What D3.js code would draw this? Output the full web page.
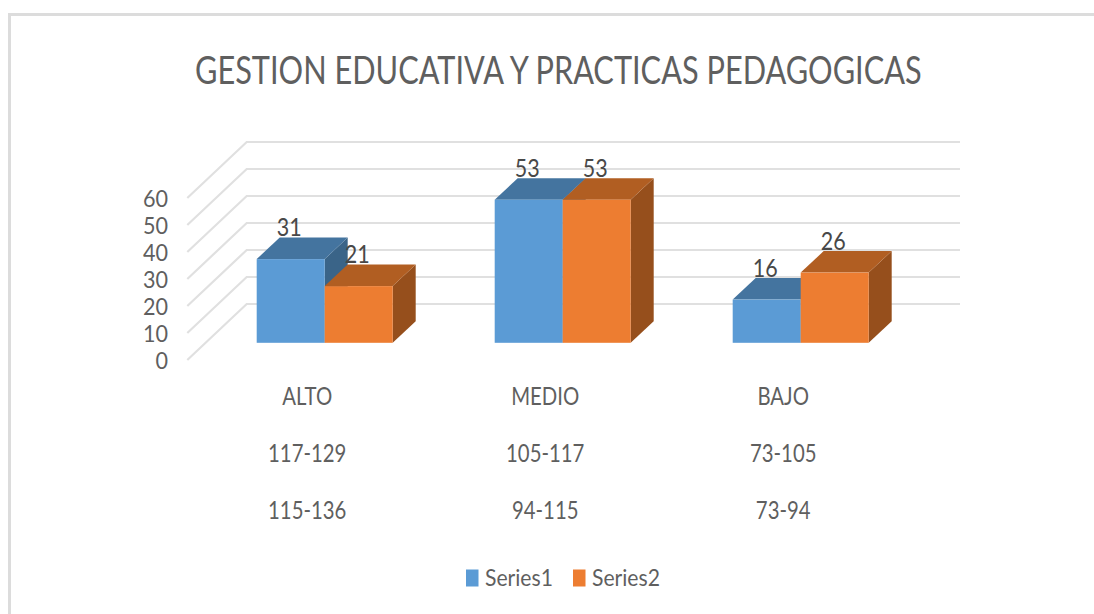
<!DOCTYPE html>
<html><head><meta charset="utf-8">
<script src="https://cdn.jsdelivr.net/npm/d3@7"></script>
<style>html,body{margin:0;padding:0;background:#fff}svg{display:block}text{font-family:Lato,"Open Sans",sans-serif}</style>
</head><body><svg id="c" width="1094" height="614"></svg>
<script>
const chartTitle = "GESTION EDUCATIVA Y PRACTICAS PEDAGOGICAS";
const categories = ["ALTO","MEDIO","BAJO"];
const rangeRow1 = ["117-129","105-117","73-105"];
const rangeRow2 = ["115-136","94-115","73-94"];
const seriesNames = ["Series1","Series2"];
const series1 = [31,53,16];
const series2 = [21,53,26];
const yTicks = [0,10,20,30,40,50,60];

const svg = d3.select("#c");
const fill = ["#5b9bd5","#ed7d31"], top_ = ["#44749f","#b15e22"], side = ["#3a6488","#964f1c"];
const grey = "#5f5f5f", dark = "#484848", gridC = "#e0e0e0";

const h = d3.scaleLinear().domain([0,60]).range([0,162]);
const frontBase = 342.8, wallBase = 304, axisBase = 360;
const wallLeft = 246.7, wallRight = 960, axisLeft = 187.3;
const x0 = d3.scaleBand().domain(categories).range([205.7,919.7]).paddingInner(0);
const barW = 68, dx = 23, dy = 21.5;
const xBar = (i,s) => x0(categories[i]) + x0.bandwidth()/2 + (s-1)*barW;

function label(g,x,y,t,size,color,anchor,sx){
  return g.append("text").attr("transform",`translate(${x},${y}) scale(${sx},1)`)
    .attr("text-anchor",anchor).attr("font-size",size).attr("fill",color).text(t);
}
function fitted(g,x,y,t,size,color,width){
  const n = label(g,x,y,t,size,color,"start",1);
  const sx = width / n.node().getComputedTextLength();
  n.attr("transform",`translate(${x},${y}) scale(${sx},1)`);
  return n;
}

svg.append("path").attr("d","M9.5 614V14.5H1094").attr("fill","none").attr("stroke","#dcdcdc").attr("stroke-width",3);

fitted(svg,195,84,chartTitle,39,grey,727);

const grid = svg.append("g").attr("fill","none").attr("stroke",gridC).attr("stroke-width",2.2);
yTicks.forEach(v=>{
  const yw = wallBase-h(v), ya = axisBase-h(v);
  grid.append("path").attr("d",`M${axisLeft} ${ya}L${wallLeft} ${yw}H${wallRight}`);
});

const yl = svg.append("g");
yTicks.forEach(v=>{
  label(yl,168,axisBase-h(v)+8.5,String(v),23.5,grey,"end",0.92);
});

[series1,series2].forEach((vals,s)=>{
  const g = svg.append("g");
  vals.forEach((v,i)=>{
    const x = xBar(i,s), y = frontBase-h(v), b = frontBase;
    g.append("path").attr("fill",side[s]).attr("d",`M${x+barW} ${y}l${dx} ${-dy}V${b-dy}l${-dx} ${dy}Z`);
    g.append("path").attr("fill",top_[s]).attr("d",`M${x} ${y}l${dx} ${-dy}h${barW}l${-dx} ${dy}Z`);
    g.append("rect").attr("x",x).attr("y",y).attr("width",barW).attr("height",h(v)).attr("fill",fill[s]);
  });
});

const dl = svg.append("g");
[series1,series2].forEach((vals,s)=>{
  vals.forEach((v,i)=>{
    label(dl,xBar(i,s)+barW/2-1.5,frontBase-h(v)-23,String(v),25,dark,"middle",0.86);
  });
});

const cats = svg.append("g");
[[categories,404.5],[rangeRow1,461.5],[rangeRow2,518.5]].forEach(([row,y])=>{
  row.forEach((t,i)=>{
    label(cats,x0(categories[i])+x0.bandwidth()/2-17.5,y,t,24.5,grey,"middle",0.83);
  });
});

const leg = svg.append("g");
[466,573].forEach((x,i)=>{
  leg.append("rect").attr("x",x).attr("y",569.5).attr("width",12.5).attr("height",17).attr("fill",fill[i]);
  fitted(leg,x+19,586,seriesNames[i],24,grey,68);
});
</script></body></html>
